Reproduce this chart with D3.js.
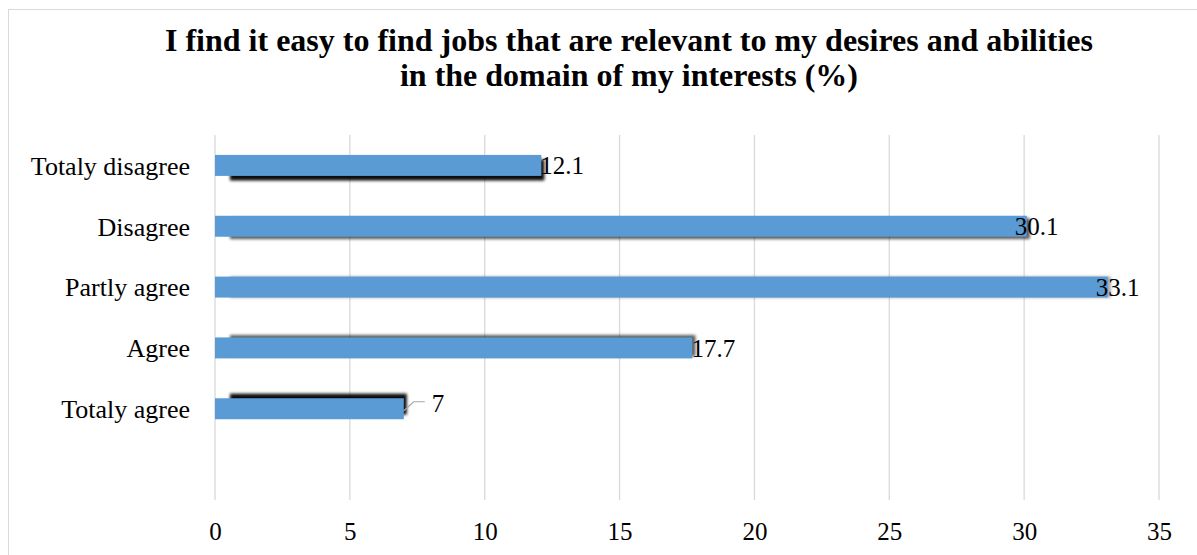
<!DOCTYPE html>
<html>
<head>
<meta charset="utf-8">
<script src="https://cdn.jsdelivr.net/npm/d3@7"></script>
<style>
  body { margin: 0; background: #fff; }
</style>
</head>
<body>
<div id="chart"></div>
<script>
var categories = ["Totaly disagree", "Disagree", "Partly agree", "Agree", "Totaly agree"];
var values = [12.1, 30.1, 33.1, 17.7, 7];
var xTicks = [0, 5, 10, 15, 20, 25, 30, 35];
var titleLines = ["I find it easy to find jobs that are relevant to my desires and abilities",
                  "in the domain of my interests (%)"];

var FONT = "Liberation Serif";
var width = 1197, height = 555;
var margin = {top: 135, left: 215, right: 38, bottom: 55};
var plotW = width - margin.left - margin.right,
    plotH = height - margin.top - margin.bottom;

var data = categories.map(function(c, i) { return {cat: c, value: values[i], i: i}; });

var svg = d3.select("#chart").append("svg")
    .attr("width", width)
    .attr("height", height)
    .attr("font-family", FONT);

var defs = svg.append("defs");
defs.append("filter").attr("id", "blur")
    .attr("x", "-10%").attr("y", "-100%").attr("width", "120%").attr("height", "300%")
    .append("feGaussianBlur").attr("stdDeviation", 1.6);

// chart border
svg.append("rect")
    .attr("x", 8.5).attr("y", 9.5)
    .attr("width", 1200).attr("height", 600)
    .attr("fill", "none")
    .attr("stroke", "#d9d9d9");

// title
svg.append("g").selectAll("text")
    .data(titleLines)
    .enter().append("text")
    .attr("x", 629)
    .attr("y", function(d, i) { return 51 + i * 35; })
    .attr("text-anchor", "middle")
    .attr("font-family", FONT)
    .style("font-size", "32px")
    .style("font-weight", "bold")
    .text(function(d) { return d; });

var x = d3.scaleLinear()
    .domain([0, 35])
    .range([0, plotW]);

// 5 categories + room for an empty band below
var step = plotH / (categories.length + 1);
var y = d3.scaleBand()
    .domain(categories)
    .range([0, step * categories.length])
    .paddingInner(0.655)
    .paddingOuter(0.3275);

var g = svg.append("g")
    .attr("transform", "translate(" + margin.left + "," + margin.top + ")");

// gridlines
g.selectAll(".grid")
    .data(xTicks)
    .enter().append("line")
    .attr("class", "grid")
    .attr("x1", function(d) { return x(d); })
    .attr("x2", function(d) { return x(d); })
    .attr("y1", 0)
    .attr("y2", plotH)
    .attr("stroke", "#d9d9d9")
    .attr("stroke-width", 1.3);

// x axis labels
var xAxis = d3.axisBottom(x).tickValues(xTicks).tickSize(0).tickPadding(0);
var xg = g.append("g")
    .attr("transform", "translate(0," + plotH + ")")
    .call(xAxis)
    .attr("font-family", FONT);
xg.select(".domain").remove();
xg.selectAll("text")
    .attr("y", 40)
    .attr("dy", 0)
    .style("font-size", "25px")
    .attr("fill", "#000");

// y axis labels
var yAxis = d3.axisLeft(y).tickSize(0).tickPadding(25);
var yg = g.append("g").call(yAxis).attr("font-family", FONT);
yg.select(".domain").remove();
yg.selectAll("text")
    .attr("dy", "0.36em")
    .style("font-size", "26px")
    .attr("fill", "#000");

// shadows (perspective-like, blurred)
g.selectAll(".shadow")
    .data(data)
    .enter().append("rect")
    .attr("class", "shadow")
    .attr("x", 15)
    .attr("y", function(d) { return y(d.cat) + (2 - d.i) * 2.3; })
    .attr("width", function(d) { return Math.max(0, x(d.value) - 12); })
    .attr("height", y.bandwidth())
    .attr("fill", "#000")
    .attr("opacity", function(d) { return 0.35 + Math.abs(2 - d.i) * 0.3; })
    .attr("filter", "url(#blur)");

// bars
g.selectAll(".bar")
    .data(data)
    .enter().append("rect")
    .attr("class", "bar")
    .attr("x", 0)
    .attr("y", function(d) { return y(d.cat); })
    .attr("width", function(d) { return x(d.value); })
    .attr("height", y.bandwidth())
    .attr("fill", "#5b9bd5");

// leader line for short bars
g.selectAll(".leader")
    .data(data.filter(function(d) { return d.value < 10; }))
    .enter().append("path")
    .attr("class", "leader")
    .attr("d", function(d) {
        var x0 = x(d.value), yc = y(d.cat) + y.bandwidth() / 2;
        return "M" + x0 + "," + (yc + 2) + "L" + (x0 + 10) + "," + (yc - 7) + "L" + (x0 + 21) + "," + (yc - 7);
    })
    .attr("fill", "none")
    .attr("stroke", "#a6a6a6")
    .attr("stroke-width", 1.2);

// value labels
g.selectAll(".val")
    .data(data)
    .enter().append("text")
    .attr("class", "val")
    .attr("x", function(d) {
        if (d.value < 10) return x(d.value) + 28;
        return x(d.value) - (d.value > 25 ? 12 : 1);
    })
    .attr("y", function(d) { return y(d.cat) + y.bandwidth() / 2 + (d.value < 10 ? -6 : 0); })
    .attr("dy", "0.35em")
    .attr("font-family", FONT)
    .style("font-size", "25px")
    .text(function(d) { return d.value; });
</script>
</body>
</html>
